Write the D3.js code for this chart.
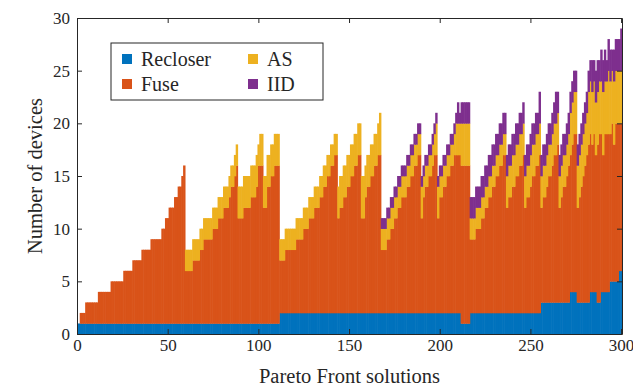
<!DOCTYPE html>
<html>
<head>
<meta charset="utf-8">
<script src="https://cdn.jsdelivr.net/npm/d3@7/dist/d3.min.js"></script>
<style>
  body { margin: 0; background: #fff; }
  svg { display: block; font-family: "Liberation Serif", "Times New Roman", serif; }
</style>
</head>
<body>
<div id="chart"></div>
<script>
// number of devices of each type for every Pareto front solution (1..300)
const recloser = [
  1,1,1,1,1,1,1,1,1,1, 1,1,1,1,1,1,1,1,1,1, 1,1,1,1,1,1,1,1,1,1, 1,1,1,1,1,1,1,1,1,1,
  1,1,1,1,1,1,1,1,1,1, 1,1,1,1,1,1,1,1,1,1, 1,1,1,1,1,1,1,1,1,1, 1,1,1,1,1,1,1,1,1,1,
  1,1,1,1,1,1,1,1,1,1, 1,1,1,1,1,1,1,1,1,1, 1,1,1,1,1,1,1,1,1,1, 1,2,2,2,2,2,2,2,2,2,
  2,2,2,2,2,2,2,2,2,2, 2,2,2,2,2,2,2,2,2,2, 2,2,2,2,2,2,2,2,2,2, 2,2,2,2,2,2,2,2,2,2,
  2,2,2,2,2,2,2,2,2,2, 2,2,2,2,2,2,2,2,2,2, 2,2,2,2,2,2,2,2,2,2, 2,2,2,2,2,2,2,2,2,2,
  2,2,2,2,2,2,2,2,2,2, 2,1,1,1,1,1,2,2,2,2, 2,2,2,2,2,2,2,2,2,2, 2,2,2,2,2,2,2,2,2,2,
  2,2,2,2,2,2,2,2,2,2, 2,2,2,2,2,3,3,3,3,3, 3,3,3,3,3,3,3,3,3,3, 3,4,4,4,4,3,3,3,3,3,
  3,3,4,4,4,4,3,3,4,4, 4,4,4,5,5,5,5,5,6,6
];
const fuse = [
  0,1,1,1,2,2,2,2,2,2, 2,3,3,3,3,3,3,3,4,4, 4,4,4,4,4,5,5,5,5,5, 6,6,6,6,6,7,7,7,7,7,
  8,8,8,8,8,8,9,9,10,10, 11,11,11,12,12,13,13,14,15,5, 5,5,5,6,6,6,6,7,7,8, 8,8,8,8,9,9,9,10,10,10,
  11,11,11,12,13,13,14,15,10,10, 10,11,11,11,11,12,12,12,13,15, 15,15,11,11,13,13,14,14,15,15, 15,5,5,5,6,6,6,6,6,6,
  7,7,7,7,8,8,8,9,9,9, 10,10,10,11,11,12,12,13,13,14, 14,15,15,9,10,10,11,11,12,12, 13,13,14,14,15,15,9,9,11,12,
  12,13,13,14,14,15,15,6,6,6, 7,7,8,8,9,9,10,10,11,11, 11,12,12,13,13,14,14,15,15,9, 11,12,12,13,13,14,15,15,9,11,
  11,12,12,13,13,14,14,15,15,15, 15,15,15,15,15,15,7,7,7,8, 8,8,9,9,10,10,11,11,12,12, 13,13,14,14,15,15,10,11,11,12,
  12,13,13,14,14,15,10,11,11,12, 13,13,14,14,15,9,10,10,11,12, 12,13,14,14,15,9,10,11,11,12, 13,13,14,15,15,9,10,11,12,13,
  14,15,15,14,15,13,15,16,15,13, 15,15,15,14,15,13,15,15,14,14
];
const as = [
  0,0,0,0,0,0,0,0,0,0, 0,0,0,0,0,0,0,0,0,0, 0,0,0,0,0,0,0,0,0,0, 0,0,0,0,0,0,0,0,0,0,
  0,0,0,0,0,0,0,0,0,0, 0,0,0,0,0,0,0,0,0,2, 2,2,2,2,2,2,2,2,2,2, 2,2,2,2,2,2,2,2,2,2,
  2,2,2,2,2,2,2,2,3,3, 3,3,3,3,3,3,3,3,3,2, 3,3,3,3,3,3,3,3,3,3, 3,2,2,2,2,2,2,2,2,2,
  2,2,2,2,2,2,2,2,2,2, 2,2,2,2,2,2,2,2,2,2, 2,2,2,3,3,3,3,3,3,3, 3,3,3,3,3,3,4,4,3,3,
  3,3,3,3,3,3,4,2,2,2, 2,2,2,2,2,2,2,2,2,2, 2,2,2,2,2,2,2,2,2,3, 2,2,2,2,2,2,2,3,3,2,
  2,2,2,2,2,2,2,2,3,3, 3,4,4,4,4,4,2,2,2,2, 2,2,2,2,2,2,2,2,2,2, 2,2,2,2,2,2,3,3,3,3,
  3,3,3,3,3,3,3,3,3,3, 3,3,3,3,3,3,3,3,3,3, 3,3,3,3,3,3,3,3,3,3, 3,4,4,4,4,4,4,4,4,4,
  4,5,5,5,5,5,5,5,5,6, 5,5,6,5,5,6,5,5,5,5
];
const iid = [
  0,0,0,0,0,0,0,0,0,0, 0,0,0,0,0,0,0,0,0,0, 0,0,0,0,0,0,0,0,0,0, 0,0,0,0,0,0,0,0,0,0,
  0,0,0,0,0,0,0,0,0,0, 0,0,0,0,0,0,0,0,0,0, 0,0,0,0,0,0,0,0,0,0, 0,0,0,0,0,0,0,0,0,0,
  0,0,0,0,0,0,0,0,0,0, 0,0,0,0,0,0,0,0,0,0, 0,0,0,0,0,0,0,0,0,0, 0,0,0,0,0,0,0,0,0,0,
  0,0,0,0,0,0,0,0,0,0, 0,0,0,0,0,0,0,0,0,0, 0,0,0,0,0,0,0,0,0,0, 0,0,0,0,0,0,0,0,0,0,
  0,0,0,0,0,0,0,1,1,1, 1,1,1,1,1,1,1,1,1,1, 1,1,1,1,1,1,1,1,1,1, 1,1,1,1,1,1,1,1,1,1,
  1,1,1,1,1,1,1,1,1,2, 1,2,2,2,2,2,2,2,2,2, 2,2,2,2,2,2,2,2,2,2, 2,2,2,2,2,2,2,2,2,2,
  2,2,2,2,2,2,2,2,2,2, 2,2,2,2,3,2,2,2,2,2, 2,2,2,3,2,2,2,2,2,2, 2,2,2,2,2,2,2,2,2,2,
  2,2,2,3,2,3,3,2,3,3, 3,2,3,3,2,3,3,3,3,4
];
const seriesNames = ['Recloser', 'Fuse', 'AS', 'IID'];
const seriesColors = ['#0072BD', '#D95319', '#EDB120', '#7E2F8E'];
const xTicks = [0, 50, 100, 150, 200, 250, 300];
const yTicks = [0, 5, 10, 15, 20, 25, 30];

const width = 633, height = 386;
const margin = { top: 18, right: 11, bottom: 52, left: 77 };
const axisColor = '#262626';

const table = recloser.map((r, k) => ({
  solution: k + 1, Recloser: r, Fuse: fuse[k], AS: as[k], IID: iid[k]
}));
const stacked = d3.stack().keys(seriesNames)(table);
const color = d3.scaleOrdinal(seriesNames, seriesColors);

const x = d3.scaleLinear([0, 300.5], [margin.left, width - margin.right]);
const y = d3.scaleLinear([0, 30], [height - margin.bottom, margin.top]);

const svg = d3.select('#chart').append('svg')
  .attr('width', width).attr('height', height);

svg.append('clipPath').attr('id', 'plot')
  .append('rect')
  .attr('x', margin.left).attr('y', margin.top)
  .attr('width', width - margin.left - margin.right)
  .attr('height', height - margin.top - margin.bottom);

// stacked bars, width 1 (touching); a small overlap hides antialiasing seams
svg.append('g').attr('clip-path', 'url(#plot)')
  .selectAll('g')
  .data(stacked)
  .join('g')
  .attr('fill', d => color(d.key))
  .selectAll('rect')
  .data(d => d.filter(v => v[1] > v[0]))
  .join('rect')
  .attr('x', d => x(d.data.solution - 0.5))
  .attr('width', d => x(d.data.solution + 0.5) - x(d.data.solution - 0.5) + 0.6)
  .attr('y', d => y(d[1]))
  .attr('height', d => y(d[0]) - y(d[1]) + 0.3);

// axes, ticks pointing inward on all four sides
const tickLen = 5;
const gx = svg.append('g')
  .attr('transform', `translate(0,${height - margin.bottom})`)
  .call(d3.axisBottom(x).tickValues(xTicks).tickSizeInner(-tickLen).tickSizeOuter(0).tickPadding(5));
const gxTop = svg.append('g')
  .attr('transform', `translate(0,${margin.top})`)
  .call(d3.axisTop(x).tickValues(xTicks).tickSizeInner(-tickLen).tickSizeOuter(0).tickFormat(''));
const gy = svg.append('g')
  .attr('transform', `translate(${margin.left},0)`)
  .call(d3.axisLeft(y).tickValues(yTicks).tickSizeInner(-tickLen).tickSizeOuter(0).tickPadding(7));
const gyRight = svg.append('g')
  .attr('transform', `translate(${width - margin.right},0)`)
  .call(d3.axisRight(y).tickValues(yTicks).tickSizeInner(-tickLen).tickSizeOuter(0).tickFormat(''));

[gx, gxTop, gy, gyRight].forEach(g => {
  g.selectAll('.domain').attr('stroke', axisColor);
  g.selectAll('.tick line').attr('stroke', axisColor);
  g.selectAll('.tick text')
    .attr('fill', axisColor)
    .style('font-family', '"Liberation Serif", "Times New Roman", serif')
    .style('font-size', '17px');
});

// axis titles
svg.append('text')
  .attr('x', (margin.left + width - margin.right) / 2)
  .attr('y', height - 3)
  .attr('text-anchor', 'middle')
  .attr('fill', axisColor)
  .style('font-size', '20.5px')
  .text('Pareto Front solutions');

svg.append('text')
  .attr('transform', `translate(42,${(margin.top + height - margin.bottom) / 2}) rotate(-90)`)
  .attr('text-anchor', 'middle')
  .attr('fill', axisColor)
  .style('font-size', '20.5px')
  .text('Number of devices');

// legend, two columns
const legend = svg.append('g').attr('transform', 'translate(111,43)');
legend.append('rect')
  .attr('width', 212).attr('height', 57)
  .attr('fill', '#fff').attr('stroke', axisColor).attr('stroke-width', 1);

const legendPos = [[11, 16], [11, 41], [137, 16], [137, 41]];
const item = legend.selectAll('g.item')
  .data(seriesNames)
  .join('g')
  .attr('class', 'item')
  .attr('transform', (d, i) => `translate(${legendPos[i][0]},${legendPos[i][1]})`);
item.append('rect')
  .attr('x', 0).attr('y', -5).attr('width', 10).attr('height', 10)
  .attr('fill', d => color(d));
item.append('text')
  .attr('x', 19).attr('y', 7)
  .attr('fill', axisColor)
  .style('font-size', '20px')
  .text(d => d);
</script>
</body>
</html>
